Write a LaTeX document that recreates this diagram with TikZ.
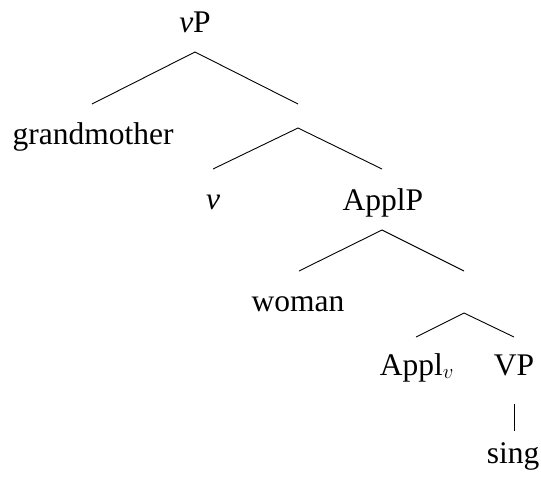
\documentclass[tikz,border=0pt]{standalone}
\usepackage{fontspec}
\setmainfont{Liberation Serif}
\begin{document}
\begin{tikzpicture}[x=1pt,y=-1pt,
  lbl/.style={anchor=base,inner sep=0pt,font=\fontsize{31.5}{38}\selectfont},
  br/.style={line width=0.9pt}]
\useasboundingbox (0,0) rectangle (541,479);
\node[lbl] (vP) at (195,32) {\textit{v}P};
\node[lbl] (gm) at (93,144) {grandmother};
\coordinate (X) at (298,128);
\node[lbl] (v) at (213,209) {\textit{v}};
\node[lbl] (ApplP) at (383,210) {ApplP};
\node[lbl] (woman) at (298,311) {woman};
\coordinate (Y) at (464,313);
\node[lbl] (Applv) at (417,375) {Appl$_v$};
\node[lbl] (VP) at (514,375) {VP};
\node[lbl] (sing) at (513,463) {sing};
\draw[br] ([yshift=-20pt]vP.base) -- ([xshift=-1pt,yshift=40pt]gm.base);
\draw[br] ([yshift=-20pt]vP.base) -- ([yshift=24pt]X);
\draw[br] (X) -- ([yshift=40pt]v.base);
\draw[br] (X) -- ([xshift=-1pt,yshift=41pt]ApplP.base);
\draw[br] ([xshift=-1pt,yshift=-20pt]ApplP.base) -- ([xshift=1pt,yshift=40pt]woman.base);
\draw[br] ([xshift=-1pt,yshift=-20pt]ApplP.base) -- ([yshift=42pt]Y);
\draw[br] (Y) -- ([xshift=-1pt,yshift=38pt]Applv.base);
\draw[br] (Y) -- ([yshift=38pt]VP.base);
\draw[br] ([yshift=-29pt]VP.base) -- ([xshift=1pt,yshift=32pt]sing.base);
\end{tikzpicture}
\end{document}
